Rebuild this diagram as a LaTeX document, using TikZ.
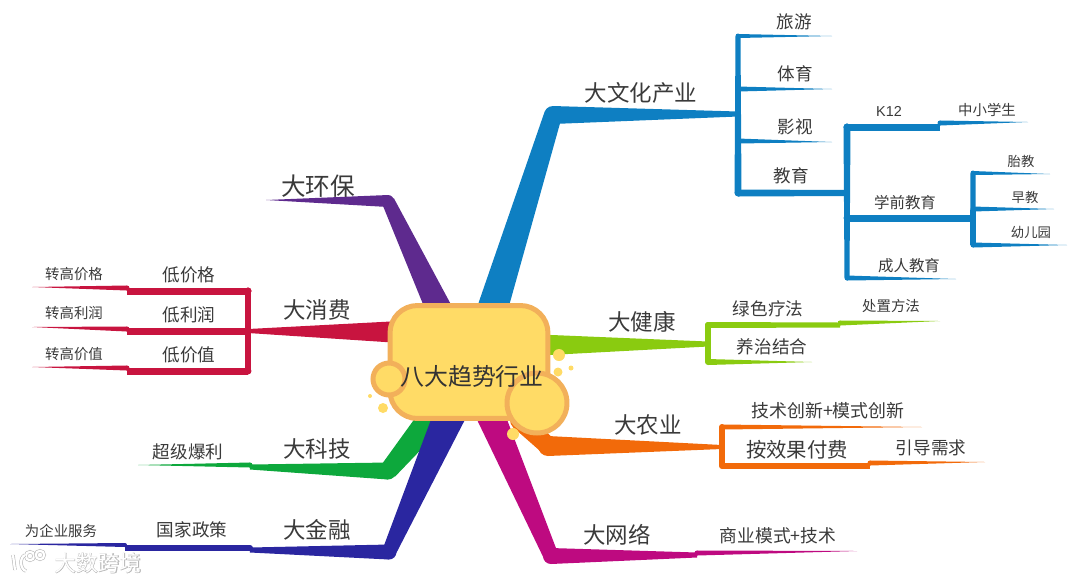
\documentclass[tikz,border=0pt]{standalone}
\usepackage{fontspec}
\usepackage{tikz}
\usetikzlibrary{positioning,calc,shapes.geometric}
\setmainfont{Noto Sans CJK SC}
\newfontfamily\latinfont{Liberation Sans}
\newfontfamily\markfont[FakeBold=2.5]{Noto Sans CJK SC}

\definecolor{hubfill}{HTML}{FFDB66}
\definecolor{hubline}{HTML}{F2B05A}
\definecolor{culture}{HTML}{0E7FC2}
\definecolor{enviro}{HTML}{5E2A8E}
\definecolor{consume}{HTML}{C8143F}
\definecolor{health}{HTML}{8ACB10}
\definecolor{farming}{HTML}{F26A0A}
\definecolor{network}{HTML}{BE0A80}
\definecolor{techno}{HTML}{0DA83C}
\definecolor{finance}{HTML}{2A26A0}
\definecolor{labelgray}{HTML}{3A3A3A}

\pgfdeclarelayer{back}
\pgfsetlayers{back,main}

% tapered branch: colour, from, to, width at start, width at end (pixels)
\newcommand{\taperline}[5]{
    \fill[#1] (#2) circle[radius=#4*0.01cm];
    \fill[#1] ($(#2)!#4*0.01cm!90:(#3)$) -- ($(#3)!#5*0.01cm!-90:(#2)$) -- ($(#3)!#5*0.01cm!90:(#2)$) -- ($(#2)!#4*0.01cm!-90:(#3)$) -- cycle;
}

\begin{document}
\begin{tikzpicture}[
        x=0.02cm, y=-0.02cm,
        hubbox/.style={rectangle, draw=hubline, line width=0.1cm, fill=hubfill, rounded corners=0.55cm, minimum width=3.16cm, minimum height=2.26cm},
        bubble/.style={circle, draw=hubline, line width=0.1cm, fill=hubfill, inner sep=0pt},
        dot/.style={circle, fill=hubfill, inner sep=0pt},
        hubtext/.style={text=black!80, font=\fontsize{13.6pt}{15pt}\selectfont},
        mainlabel/.style={text=labelgray, font=\fontsize{12.8pt}{15pt}\selectfont},
        sublabel/.style={text=labelgray, font=\fontsize{10pt}{12pt}\selectfont},
        leaflabel/.style={text=labelgray, font=\fontsize{8.2pt}{10pt}\selectfont},
        marklabel/.style={text=white, font=\fontsize{12.4pt}{15pt}\selectfont},
        markshade/.style={text=black!28, font=\markfont\fontsize{12.4pt}{15pt}\selectfont},
        markline/.style={draw=black!28, line width=0.012cm, double=white, double distance=0.045cm},
        markring/.style={circle, markline, inner sep=0pt, minimum size=0.17cm}
        ]

        % Hub in the middle
        \node[hubbox] (hub) at (469,362) {};
        \node[bubble, minimum size=0.64cm] (bubbleleft) at (389,379) {};
        \node[bubble, minimum size=1.2cm] (bubbleright) at (537,403) {};
        \node[dot, minimum size=0.24cm] (dota) at (559,355) {};
        \node[dot, minimum size=0.18cm] (dotb) at (558,372) {};
        \node[dot, minimum size=0.1cm] (dotc) at (571,368) {};
        \node[dot, minimum size=0.2cm] (dotd) at (383,408) {};
        \node[dot, minimum size=0.08cm] (dote) at (370,396) {};
        \node[dot, minimum size=0.24cm] (dotf) at (513,434) {};
        \node[hubtext] (hublabel) at (472,376) {八大趋势行业};

        % Branch 1: culture
        \node[mainlabel] (cultureroot) at (641,93) {大文化产业};
        \node[sublabel] (travel) at (794,22) {旅游};
        \node[sublabel] (sports) at (795,74) {体育};
        \node[sublabel] (film) at (795,127) {影视};
        \node[sublabel] (edu) at (791,176) {教育};
        \node[text=labelgray, font=\latinfont\fontsize{8.2pt}{10pt}\selectfont] (ktw) at (889,111) {K12};
        \node[leaflabel] (pupil) at (987,110) {中小学生};
        \node[leaflabel, font=\fontsize{8.8pt}{10pt}\selectfont] (preschool) at (905,203) {学前教育};
        \node[leaflabel, font=\fontsize{8.8pt}{10pt}\selectfont] (adult) at (909,266) {成人教育};
        \node[leaflabel, font=\fontsize{7.6pt}{10pt}\selectfont] (prenatal) at (1021,161) {胎教};
        \node[leaflabel, font=\fontsize{7.6pt}{10pt}\selectfont] (early) at (1025,197) {早教};
        \node[leaflabel, font=\fontsize{7.6pt}{10pt}\selectfont] (kinder) at (1031,232) {幼儿园};

        % Branch 2: environment
        \node[mainlabel, font=\fontsize{14pt}{15pt}\selectfont] (enviroroot) at (318,186) {大环保};

        % Branch 3: consumption
        \node[mainlabel] (consumeroot) at (317,310) {大消费};
        \node[sublabel] (lowprice) at (189,275) {低价格};
        \node[sublabel] (lowprofit) at (189,315) {低利润};
        \node[sublabel] (lowvalue) at (189,355) {低价值};
        \node[leaflabel] (upprice) at (74,274) {转高价格};
        \node[leaflabel] (upprofit) at (74,313) {转高利润};
        \node[leaflabel] (upvalue) at (74,354) {转高价值};

        % Branch 4: health
        \node[mainlabel] (healthroot) at (642,322) {大健康};
        \node[sublabel] (green) at (768,309) {绿色疗法};
        \node[sublabel] (nurse) at (772,347) {养治结合};
        \node[leaflabel] (treat) at (891,306) {处置方法};

        % Branch 5: farming
        \node[mainlabel] (farmingroot) at (648,425) {大农业};
        \node[sublabel, font=\fontsize{10.2pt}{12pt}\selectfont] (innovate) at (828,411) {技术创新+模式创新};
        \node[sublabel, font=\fontsize{11.6pt}{12pt}\selectfont] (payresult) at (797,450) {按效果付费};
        \node[sublabel] (guide) at (931,448) {引导需求};

        % Branch 6: network
        \node[mainlabel] (networkroot) at (617,535) {大网络};
        \node[sublabel, font=\fontsize{10.1pt}{12pt}\selectfont] (model) at (778,536) {商业模式+技术};

        % Branch 7: technology
        \node[mainlabel] (technoroot) at (317,449) {大科技};
        \node[sublabel] (profit) at (188,452) {超级爆利};

        % Branch 8: finance
        \node[mainlabel] (financeroot) at (317,530) {大金融};
        \node[sublabel] (policy) at (192,530) {国家政策};
        \node[leaflabel] (service) at (61,531) {为企业服务};

        % Watermark
        \node[markshade] (markshadow) at (98,563) {大数跨境};
        \node[marklabel] (marktext) at (98,563) {大数跨境};
        \node[markring] (marka) at (30,556) {};
        \node[markring] (markb) at (40,555) {};
        \coordinate (markc) at (13,555);
        \coordinate (markd) at (15,570);
        \coordinate (marke) at (25,555);
        \coordinate (markf) at (26,571);
        \draw[markline] (markc) -- (markd);
        \draw[markline] (marke) to[bend right=70] (markf);

        \begin{pgfonlayer}{back}
        % Culture branch points
        \coordinate (ca) at (489,320);
        \coordinate (cb) at (553,115);
        \coordinate (cc) at (738,114);
        \coordinate (cd) at (738,36);
        \coordinate (ce) at (738,193);
        \coordinate (cf) at (847,193);
        \coordinate (cg) at (847,127);
        \coordinate (ch) at (847,278);
        \coordinate (ci) at (847,218);
        \coordinate (cj) at (973,218);
        \coordinate (ck) at (973,173);
        \coordinate (cl) at (973,245);
        \coordinate (cm) at (973,209);
        \coordinate (cn) at (940,127);
        \coordinate (co) at (940,123);
        \coordinate (cp) at (738,89);
        \coordinate (cq) at (738,141);
        \coordinate (tipa) at (832,36);
        \coordinate (tipb) at (832,89);
        \coordinate (tipc) at (832,142);
        \coordinate (tipd) at (1028,122);
        \coordinate (tipe) at (1050,174);
        \coordinate (tipf) at (1054,209);
        \coordinate (tipg) at (1067,245);
        \coordinate (tiph) at (956,279);
        \taperline{culture}{ca}{cb}{31}{18}
        \taperline{culture}{cb}{cc}{18}{5}
        \taperline{culture}{cd}{ce}{5}{7}
        \taperline{culture}{cd}{tipa}{4}{0}
        \taperline{culture}{cp}{tipb}{5}{0}
        \taperline{culture}{cq}{tipc}{5}{0}
        \taperline{culture}{ce}{cf}{7}{6}
        \taperline{culture}{cg}{ch}{7}{5}
        \taperline{culture}{cg}{cn}{7}{7}
        \taperline{culture}{co}{tipd}{5}{0}
        \taperline{culture}{ci}{cj}{7}{7}
        \taperline{culture}{ck}{cl}{5}{6}
        \taperline{culture}{ck}{tipe}{4}{0}
        \taperline{culture}{cm}{tipf}{5}{0}
        \taperline{culture}{cl}{tipg}{5}{0}
        \taperline{culture}{ch}{tiph}{5}{0}

        % Environment branch points
        \coordinate (ea) at (444,320);
        \coordinate (eb) at (388,201);
        \coordinate (tipi) at (266,200);
        \taperline{enviro}{ea}{eb}{27}{13}
        \taperline{enviro}{eb}{tipi}{12}{0}

        % Consumption branch points
        \coordinate (ra) at (400,332);
        \coordinate (rb) at (248,331);
        \coordinate (rc) at (248,291);
        \coordinate (rd) at (248,371);
        \coordinate (re) at (127,291);
        \coordinate (rf) at (127,331);
        \coordinate (rg) at (127,371);
        \coordinate (rh) at (127,288);
        \coordinate (ri) at (127,329);
        \coordinate (rj) at (127,368);
        \coordinate (tipj) at (32,287);
        \coordinate (tipk) at (32,327);
        \coordinate (tipl) at (32,367);
        \taperline{consume}{ra}{rb}{22}{4}
        \taperline{consume}{rc}{rd}{7}{7}
        \taperline{consume}{rc}{re}{7}{7}
        \taperline{consume}{rb}{rf}{7}{7}
        \taperline{consume}{rd}{rg}{7}{7}
        \taperline{consume}{rh}{tipj}{5}{0}
        \taperline{consume}{ri}{tipk}{5}{0}
        \taperline{consume}{rj}{tipl}{5}{0}

        % Health branch points
        \coordinate (ha) at (540,345);
        \coordinate (hb) at (708,344);
        \coordinate (hc) at (708,325);
        \coordinate (hd) at (708,362);
        \coordinate (he) at (840,325);
        \coordinate (hf) at (840,323);
        \coordinate (tipm) at (940,321);
        \coordinate (tipn) at (812,362);
        \taperline{health}{ha}{hb}{21}{5}
        \taperline{health}{hc}{hd}{6}{6}
        \taperline{health}{hc}{he}{6}{5}
        \taperline{health}{hf}{tipm}{5}{0}
        \taperline{health}{hd}{tipn}{6}{0}

        % Farming branch points
        \coordinate (fa) at (520,420);
        \coordinate (fb) at (548,446);
        \coordinate (fc) at (722,447);
        \coordinate (fd) at (722,427);
        \coordinate (fe) at (722,466);
        \coordinate (ff) at (870,466);
        \coordinate (fg) at (870,463);
        \coordinate (tipo) at (922,427);
        \coordinate (tipp) at (985,462);
        \taperline{farming}{fa}{fb}{20}{18}
        \taperline{farming}{fb}{fc}{20}{4}
        \taperline{farming}{fd}{fe}{6}{6}
        \taperline{farming}{fd}{tipo}{5}{0}
        \taperline{farming}{fe}{ff}{6}{6}
        \taperline{farming}{fg}{tipp}{5}{0}

        % Network branch points
        \coordinate (na) at (486,405);
        \coordinate (nb) at (551,556);
        \coordinate (nc) at (697,555);
        \coordinate (nd) at (697,553);
        \coordinate (tipq) at (857,551);
        \taperline{network}{na}{nb}{29}{15}
        \taperline{network}{nb}{nc}{16}{5}
        \taperline{network}{nd}{tipq}{5}{0}

        % Technology branch points
        \coordinate (ta) at (443,405);
        \coordinate (tb) at (388,471);
        \coordinate (tc) at (250,467);
        \coordinate (td) at (250,465);
        \coordinate (tipr) at (138,465);
        \taperline{techno}{ta}{tb}{30}{18}
        \taperline{techno}{tb}{tc}{17}{5}
        \taperline{techno}{td}{tipr}{5}{0}

        % Finance branch points
        \coordinate (ga) at (454,405);
        \coordinate (gb) at (389,552);
        \coordinate (gc) at (250,550);
        \coordinate (gd) at (250,548);
        \coordinate (ge) at (125,548);
        \coordinate (gf) at (125,545);
        \coordinate (tips) at (10,544);
        \taperline{finance}{ga}{gb}{33}{14}
        \taperline{finance}{gb}{gc}{15}{5}
        \taperline{finance}{gd}{ge}{6}{6}
        \taperline{finance}{gf}{tips}{4}{0}
        \end{pgfonlayer}

        \useasboundingbox (0,0) rectangle (1080,583);
    \end{tikzpicture}
\end{document}
